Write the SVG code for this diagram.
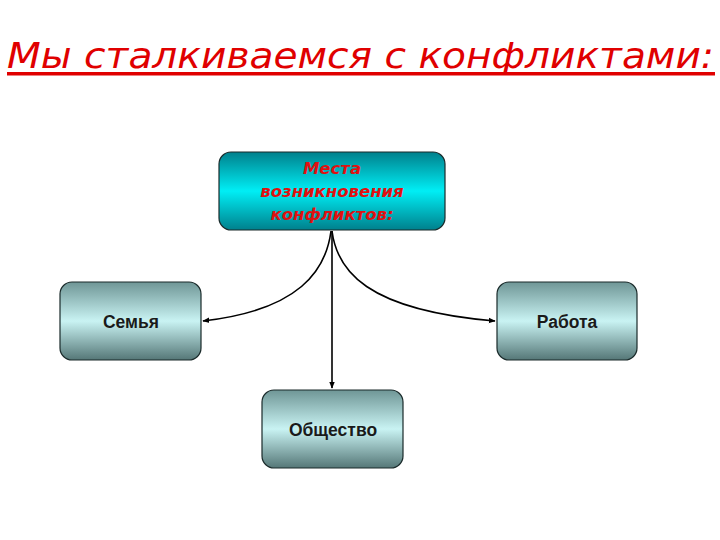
<svg xmlns="http://www.w3.org/2000/svg" width="720" height="540" viewBox="0 0 720 540">
<defs>
<linearGradient id="cyan" x1="0" y1="0" x2="0" y2="1">
<stop offset="0" stop-color="#00808c"/>
<stop offset="0.5" stop-color="#00eef5"/>
<stop offset="1" stop-color="#00808c"/>
</linearGradient>
<linearGradient id="gray" x1="0" y1="0" x2="0" y2="1">
<stop offset="0" stop-color="#6f9696"/>
<stop offset="0.5" stop-color="#c9f3f3"/>
<stop offset="1" stop-color="#557777"/>
</linearGradient>
<marker id="arr" viewBox="0 0 10 10" refX="9" refY="5" markerWidth="7" markerHeight="7" orient="auto" markerUnits="userSpaceOnUse">
<path d="M0,1 L10,5 L0,9 Z" fill="#000"/>
</marker>
<style>
.box{stroke:#1a2a2a;stroke-width:1.2}
.lbl{font-family:"Liberation Sans",Arial,sans-serif;font-size:17.5px;font-weight:bold;fill:#1a1a1a;text-anchor:middle}
.red{font-family:"DejaVu Sans",Verdana,sans-serif;font-size:16.5px;font-weight:bold;font-style:italic;fill:#e01010;text-anchor:middle}
.con{fill:none;stroke:#000;stroke-width:1.6;marker-end:url(#arr)}
</style>
</defs>
<rect width="720" height="540" fill="#fff"/>
<g id="title">
<text x="7" y="68" font-family="'DejaVu Sans',Verdana,sans-serif" font-style="italic" font-size="36" fill="#e00000" textLength="707" lengthAdjust="spacingAndGlyphs">Мы сталкиваемся с конфликтами:</text>
<rect x="7" y="72" width="708" height="3.5" fill="#e00000"/>
</g>
<g id="connectors">
<path class="con" d="M331,231 C326,270 300,310 203,321"/>
<path class="con" d="M332,231 C337,270 365,310 495,321"/>
<path class="con" d="M332,231 L332,388"/>
</g>
<g id="node-center">
<rect class="box" x="219" y="152" width="226" height="78" rx="12" fill="url(#cyan)"/>
<text class="red" x="332" y="174">Места</text>
<text class="red" x="332" y="197">возникновения</text>
<text class="red" x="332" y="220">конфликтов:</text>
</g>
<g id="node-family">
<rect class="box" x="60" y="282" width="141" height="78" rx="12" fill="url(#gray)"/>
<text class="lbl" x="131" y="328">Семья</text>
</g>
<g id="node-work">
<rect class="box" x="497" y="282" width="140" height="78" rx="12" fill="url(#gray)"/>
<text class="lbl" x="567" y="328">Работа</text>
</g>
<g id="node-society">
<rect class="box" x="262" y="390" width="141" height="78" rx="12" fill="url(#gray)"/>
<text class="lbl" x="333" y="436">Общество</text>
</g>
</svg>
